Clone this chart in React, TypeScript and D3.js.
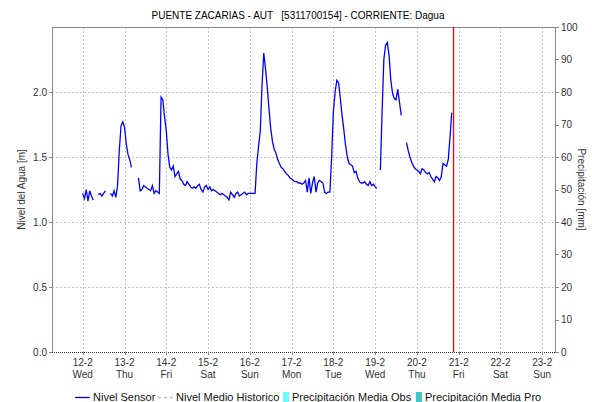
import React from 'react'
import * as d3 from 'd3'

// hourly readings of the sensor, starting 12-2 00:00 (null = no data)
const nivelSensor: (number | null)[] = [
  1.22, 1.18, 1.25, 1.16, 1.24, 1.20, 1.17, null, null, 1.21, 1.22, 1.20,
  1.22, 1.24, null, null, 1.22, 1.20, 1.24, 1.19, 1.28, 1.55, 1.74, 1.77,
  1.73, 1.60, 1.52, 1.48, 1.42, null, null, null, 1.34, 1.24, 1.25, 1.28,
  1.27, 1.26, 1.25, 1.24, 1.28, 1.22, 1.24, 1.23, 1.22, 1.96, 1.94, 1.81,
  1.70, 1.52, 1.42, 1.40, 1.43, 1.35, 1.37, 1.39, 1.33, 1.32, 1.29, 1.28,
  1.31, 1.29, 1.27, 1.26, 1.27, 1.26, 1.28, 1.29, 1.25, 1.23, 1.27, 1.28,
  1.25, 1.27, 1.24, 1.25, 1.24, 1.23, 1.22, 1.21, 1.22, 1.21, 1.20, 1.19,
  1.17, 1.23, 1.21, 1.19, 1.22, 1.23, 1.20, 1.21, 1.22, 1.23, 1.21, 1.22,
  1.22, 1.22, 1.22, 1.22, 1.45, 1.58, 1.70, 2.05, 2.30, 2.18, 2.04, 1.87,
  1.72, 1.62, 1.56, 1.53, 1.48, 1.45, 1.42, 1.41, 1.39, 1.37, 1.36, 1.34,
  1.33, 1.32, 1.31, 1.31, 1.30, 1.30, 1.29, 1.30, 1.32, 1.23, 1.34, 1.22,
  1.30, 1.35, 1.23, 1.30, 1.32, 1.31, 1.30, 1.23, 1.22, 1.23, 1.23, 1.50,
  1.85, 2.00, 2.09, 2.07, 1.95, 1.82, 1.71, 1.59, 1.50, 1.45, 1.44, 1.43,
  1.38, 1.39, 1.34, 1.31, 1.30, 1.30, 1.31, 1.29, 1.28, 1.31, 1.28, 1.29,
  1.27, 1.26, null, 1.40, 1.85, 2.25, 2.36, 2.38, 2.28, 2.09, 1.99, 1.95,
  1.94, 2.02, 1.92, 1.82, null, null, 1.61, 1.55, 1.50, 1.46, 1.43, 1.41,
  1.40, 1.39, 1.37, 1.41, 1.40, 1.38, 1.37, 1.38, 1.35, 1.33, 1.31, 1.35,
  1.34, 1.32, 1.35, 1.45, 1.44, 1.43, 1.48, 1.65, 1.84,
]

const dayLabels = ['12-2', '13-2', '14-2', '15-2', '16-2', '17-2', '18-2', '19-2', '20-2', '21-2', '22-2', '23-2']
const weekDays = ['Wed', 'Thu', 'Fri', 'Sat', 'Sun', 'Mon', 'Tue', 'Wed', 'Thu', 'Fri', 'Sat', 'Sun']
const nivelTicks = [0, 0.5, 1, 1.5, 2]
const precipTicks = [0, 10, 20, 30, 40, 50, 60, 70, 80, 90, 100]

const startTime = new Date(2025, 1, 12, 0, 0)
const ahora = new Date(2025, 1, 20, 20, 30)

const W = 592
const H = 402
const left = 52
const right = 555
const top = 27
const bottom = 352

const font = 'Liberation Sans, Arial, sans-serif'

const App = () => {
  const x = d3.scaleTime()
    .domain([new Date(2025, 1, 11, 6, 20), new Date(2025, 1, 23, 7, 20)])
    .range([left, right])
  const y = d3.scaleLinear().domain([0, 2.5]).range([bottom, top])
  const y2 = d3.scaleLinear().domain([0, 100]).range([bottom, top])

  const days = dayLabels.map((_, i) => d3.timeDay.offset(startTime, i))

  const points = nivelSensor.map((v, i) => ({ t: d3.timeHour.offset(startTime, i), v }))
  const lineMaker = d3.line<{ t: Date; v: number | null }>()
    .defined(d => d.v !== null)
    .x(d => x(d.t))
    .y(d => y(d.v as number))

  const xr = Math.round(x(ahora)) + 0.5

  return (
    <svg width={W} height={H} style={{ position: 'absolute', left: 0, top: 0, background: '#fff' }} fontFamily={font}>
      <text x={298} y={19} fontSize={11} textAnchor="middle" fill="#000" xmlSpace="preserve"
        textLength={293} lengthAdjust="spacingAndGlyphs" style={{ whiteSpace: 'pre' }}>
        {'PUENTE ZACARIAS - AUT   [5311700154] - CORRIENTE: Dagua'}
      </text>

      {/* grid */}
      <g stroke="#c4c4c4" strokeDasharray="2,2" strokeWidth={1}>
        {nivelTicks.filter(t => t > 0).map(t => (
          <line key={t} x1={left} x2={right} y1={Math.round(y(t)) + 0.5} y2={Math.round(y(t)) + 0.5} />
        ))}
        {days.map((d, i) => (
          <line key={i} x1={Math.round(x(d)) + 0.5} x2={Math.round(x(d)) + 0.5} y1={top} y2={bottom} />
        ))}
      </g>

      {/* frame */}
      <g stroke="#888" strokeWidth={1} fill="none">
        <line x1={left + 0.5} x2={right + 0.5} y1={top + 0.5} y2={top + 0.5} />
        <line x1={left + 0.5} x2={left + 0.5} y1={top} y2={bottom} />
        <line x1={right + 0.5} x2={right + 0.5} y1={top} y2={bottom} />
      </g>
      <line x1={left} x2={right} y1={bottom + 0.5} y2={bottom + 0.5} stroke="#333" strokeDasharray="1,1" />

      {/* left axis */}
      <g fontSize={10} fill="#333">
        {nivelTicks.map(t => (
          <g key={t}>
            <line x1={left - 3} x2={left} y1={Math.round(y(t)) + 0.5} y2={Math.round(y(t)) + 0.5} stroke="#888" />
            <text x={left - 5} y={y(t) + 3.5} textAnchor="end">{t.toFixed(1)}</text>
          </g>
        ))}
      </g>
      <text transform={`translate(25,${(top + bottom) / 2}) rotate(-90)`} fontSize={10} textAnchor="middle" fill="#333">
        Nivel del Agua [m]
      </text>

      {/* right axis */}
      <g fontSize={10} fill="#333">
        {precipTicks.map(t => (
          <g key={t}>
            <line x1={right} x2={right + 4} y1={Math.round(y2(t)) + 0.5} y2={Math.round(y2(t)) + 0.5} stroke="#888" />
            <text x={right + 6} y={y2(t) + 3.5}>{t}</text>
          </g>
        ))}
      </g>
      <text transform={`translate(578,${(top + bottom) / 2}) rotate(90)`} fontSize={10} textAnchor="middle" fill="#333">
        Precipitación [mm]
      </text>

      {/* x axis */}
      <g fontSize={10} fill="#333" textAnchor="middle">
        {days.map((d, i) => (
          <g key={i}>
            <line x1={Math.round(x(d)) + 0.5} x2={Math.round(x(d)) + 0.5} y1={bottom} y2={bottom + 3} stroke="#888" />
            <text x={x(d)} y={366}>{dayLabels[i]}</text>
            <text x={x(d)} y={378}>{weekDays[i]}</text>
          </g>
        ))}
      </g>

      {/* series */}
      <path d={lineMaker(points) ?? ''} fill="none" stroke="#0000ff" strokeWidth={1.3} />
      <rect x={xr - 0.6} y={top} width={1.3} height={bottom - top} fill="red" />

      {/* legend */}
      <g fontSize={11} fill="#111">
        <line x1={75} x2={90} y1={397.5} y2={397.5} stroke="#0000ff" strokeWidth={1.3} />
        <text x={93} y={401}>Nivel Sensor</text>
        <line x1={158} x2={173} y1={397.5} y2={397.5} stroke="#c0c0c0" strokeDasharray="3,3" strokeWidth={1.5} />
        <text x={176} y={401}>Nivel Medio Historico</text>
        <rect x={283} y={392} width={6} height={10} fill="#66ffff" />
        <text x={292} y={401}>Precipitación Media Obs</text>
        <rect x={416} y={392} width={6} height={10} fill="#3fc6c6" />
        <text x={425} y={401}>Precipitación Media Pro</text>
      </g>
    </svg>
  )
}

export default App
